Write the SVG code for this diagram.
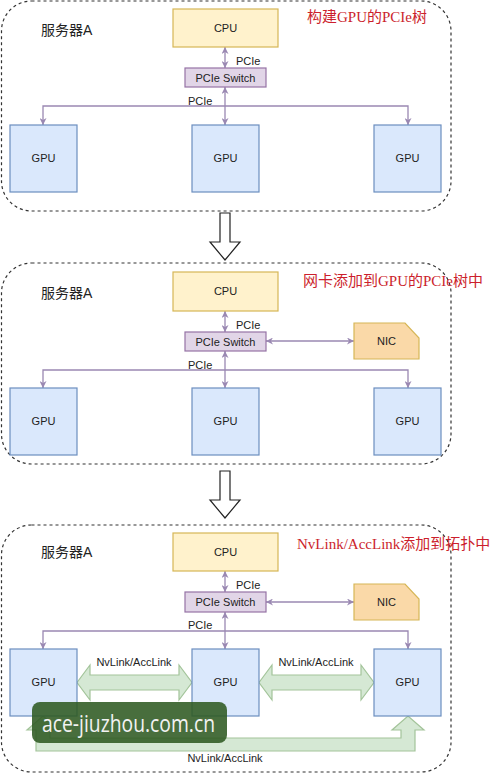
<svg xmlns="http://www.w3.org/2000/svg" width="500" height="774" viewBox="0 0 500 774">
<style>
.bg{fill:#ffffff}
.panel{fill:none;stroke:#333;stroke-width:1.2;stroke-dasharray:3 3}
.cpu{fill:#fff2cc;stroke:#d6b656;stroke-width:1.2}
.sw{fill:#e1d5e7;stroke:#9673a6;stroke-width:1.2}
.gpu{fill:#dae8fc;stroke:#6c8ebf;stroke-width:1.2}
.nic{fill:#fad9a8;stroke:#d6b656;stroke-width:1.2}
.lbl{font-family:"Liberation Sans",Arial,sans-serif;font-size:11px;fill:#222}
.mid{text-anchor:middle}
.srv{font-family:"Liberation Sans","Noto Sans CJK SC",sans-serif;font-size:14px;fill:#222}
.ttl{font-family:"Liberation Serif","Noto Sans CJK SC",serif;font-size:15px;fill:#cc1f2d}
.con{fill:none;stroke:#9a88b2;stroke-width:1.3}
.blk{fill:#ffffff;stroke:#222;stroke-width:1.2}
.nv{fill:#d5e8d4;stroke:#a3c49a;stroke-width:1.2}
</style>
<defs>
<marker id="ah" viewBox="0 0 10 10" refX="10" refY="5" markerWidth="7" markerHeight="7" markerUnits="userSpaceOnUse" orient="auto-start-reverse">
<path d="M0,0 L10,5 L0,10 L3,5 z" fill="#9a88b2"/>
</marker>
</defs>
<rect class="bg" x="0" y="0" width="500" height="774"/>

<g id="panels">
<rect class="panel" x="1.5" y="1" width="449.5" height="210" rx="30" ry="30"/>
<rect class="panel" x="1.5" y="263" width="449.5" height="201" rx="30" ry="30"/>
<rect class="panel" x="1.5" y="525" width="449.5" height="247" rx="30" ry="30"/>
</g>

<g id="transitions">
<polygon class="blk" points="220,213 230,213 230,242 240,242 225,260 210,242 220,242"/>
<polygon class="blk" points="220,471 230,471 230,500 240,500 225,518 210,500 220,500"/>
</g>

<g id="connectors">
<!-- panel 1 -->
<line class="con" x1="225" y1="47" x2="225" y2="68" marker-start="url(#ah)" marker-end="url(#ah)"/>
<line class="con" x1="225" y1="87" x2="225" y2="125" marker-start="url(#ah)" marker-end="url(#ah)"/>
<path class="con" d="M225,106 H43 V125" marker-end="url(#ah)"/>
<path class="con" d="M225,106 H408 V125" marker-end="url(#ah)"/>
<!-- panel 2 -->
<line class="con" x1="225" y1="311" x2="225" y2="332" marker-start="url(#ah)" marker-end="url(#ah)"/>
<line class="con" x1="225" y1="351" x2="225" y2="388" marker-start="url(#ah)" marker-end="url(#ah)"/>
<path class="con" d="M225,370 H43 V388" marker-end="url(#ah)"/>
<path class="con" d="M225,370 H408 V388" marker-end="url(#ah)"/>
<line class="con" x1="266" y1="341" x2="354" y2="341" marker-start="url(#ah)" marker-end="url(#ah)"/>
<!-- panel 3 -->
<line class="con" x1="225" y1="571" x2="225" y2="592" marker-start="url(#ah)" marker-end="url(#ah)"/>
<line class="con" x1="225" y1="612" x2="225" y2="649" marker-start="url(#ah)" marker-end="url(#ah)"/>
<path class="con" d="M225,631 H43 V649" marker-end="url(#ah)"/>
<path class="con" d="M225,631 H408 V649" marker-end="url(#ah)"/>
<line class="con" x1="266" y1="602" x2="354" y2="602" marker-start="url(#ah)" marker-end="url(#ah)"/>
<!-- NvLink block arrows -->
<polygon class="nv" points="77,682.5 90,665 90,675 179,675 179,665 192,682.5 179,700 179,690 90,690 90,700"/>
<polygon class="nv" points="259,682.5 272,665 272,675 361,675 361,665 374,682.5 361,700 361,690 272,690 272,700"/>
<polygon class="nv" points="43,716 59,730 50,730 50,738 401,738 401,730 392,730 408,716 424,730 415,730 415,751 36,751 36,730 27,730"/>
<!-- connector labels -->
<text class="lbl" x="236" y="65">PCIe</text>
<text class="lbl" x="188" y="105">PCIe</text>
<text class="lbl" x="236" y="329">PCIe</text>
<text class="lbl" x="188" y="369">PCIe</text>
<text class="lbl" x="236" y="589">PCIe</text>
<text class="lbl" x="188" y="629">PCIe</text>
<text class="lbl mid" x="134" y="666">NvLink/AccLink</text>
<text class="lbl mid" x="316" y="666">NvLink/AccLink</text>
<text class="lbl mid" x="225" y="762">NvLink/AccLink</text>
</g>

<g id="titles">
<text class="srv" x="41" y="35">服务器A</text>
<text class="ttl" x="307" y="22">构建GPU的PCIe树</text>
<text class="srv" x="41" y="298">服务器A</text>
<text class="ttl" x="303" y="286">网卡添加到GPU的PCIe树中</text>
<text class="srv" x="41" y="557">服务器A</text>
<text class="ttl" x="297" y="549">NvLink/AccLink添加到拓扑中</text>
</g>

<!-- panel 1 nodes -->
<g id="cpu1"><rect class="cpu" x="173" y="9" width="105" height="38"/><text class="lbl mid" x="225.5" y="32">CPU</text></g>
<g id="switch1"><rect class="sw" x="185" y="68" width="81" height="19"/><text class="lbl mid" x="225.5" y="81.5">PCIe Switch</text></g>
<g id="gpu1a"><rect class="gpu" x="10" y="125" width="67" height="67"/><text class="lbl mid" x="43.5" y="162">GPU</text></g>
<g id="gpu1b"><rect class="gpu" x="192" y="125" width="67" height="67"/><text class="lbl mid" x="225.5" y="162">GPU</text></g>
<g id="gpu1c"><rect class="gpu" x="374" y="125" width="67" height="67"/><text class="lbl mid" x="407.5" y="162">GPU</text></g>

<!-- panel 2 nodes -->
<g id="cpu2"><rect class="cpu" x="173" y="272" width="105" height="39"/><text class="lbl mid" x="225.5" y="295">CPU</text></g>
<g id="switch2"><rect class="sw" x="185" y="332" width="81" height="19"/><text class="lbl mid" x="225.5" y="345.5">PCIe Switch</text></g>
<g id="nic2"><polygon class="nic" points="354,323 405,323 419,338 419,359 354,359"/><text class="lbl mid" x="386.5" y="345">NIC</text></g>
<g id="gpu2a"><rect class="gpu" x="10" y="388" width="67" height="67"/><text class="lbl mid" x="43.5" y="425">GPU</text></g>
<g id="gpu2b"><rect class="gpu" x="192" y="388" width="67" height="67"/><text class="lbl mid" x="225.5" y="425">GPU</text></g>
<g id="gpu2c"><rect class="gpu" x="374" y="388" width="67" height="67"/><text class="lbl mid" x="407.5" y="425">GPU</text></g>

<!-- panel 3 nodes -->
<g id="cpu3"><rect class="cpu" x="173" y="533" width="105" height="38"/><text class="lbl mid" x="225.5" y="556">CPU</text></g>
<g id="switch3"><rect class="sw" x="185" y="592" width="81" height="20"/><text class="lbl mid" x="225.5" y="606">PCIe Switch</text></g>
<g id="nic3"><polygon class="nic" points="354,584 405,584 419,599 419,620 354,620"/><text class="lbl mid" x="386.5" y="606">NIC</text></g>
<g id="gpu3a"><rect class="gpu" x="10" y="649" width="67" height="67"/><text class="lbl mid" x="43.5" y="686">GPU</text></g>
<g id="gpu3b"><rect class="gpu" x="192" y="649" width="67" height="67"/><text class="lbl mid" x="225.5" y="686">GPU</text></g>
<g id="gpu3c"><rect class="gpu" x="374" y="649" width="67" height="67"/><text class="lbl mid" x="407.5" y="686">GPU</text></g>

<g id="watermark">
<rect x="32" y="702" width="195" height="41" rx="8" ry="8" fill="#2f5a22" fill-opacity="0.88"/>
<text x="42" y="732" font-family="'Open Sans','Noto Sans',sans-serif" font-size="23" fill="#f2f2f2" textLength="173" lengthAdjust="spacingAndGlyphs">ace-jiuzhou.com.cn</text>
</g>
</svg>
